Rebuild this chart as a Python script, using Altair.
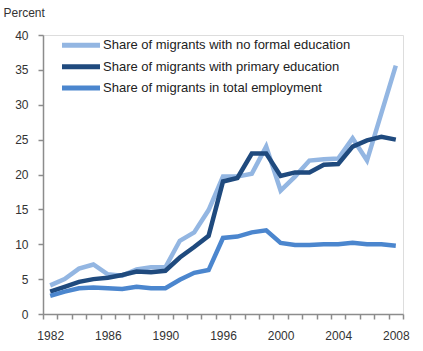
import altair as alt
import pandas as pd

years = [1982, 1983, 1984, 1985, 1986, 1987, 1988, 1989, 1990,
         1991, 1992, 1994,
         1996, 1997, 1998, 1999, 2000, 2001, 2002, 2003, 2004, 2005, 2006, 2007, 2008]
shown_labels = [1982, 1986, 1990, 1996, 2000, 2004, 2008]

series_names = [
    "Share of migrants with no formal education",
    "Share of migrants with primary education",
    "Share of migrants in total employment",
]
series_colors = ["#93B6E2", "#1F4A7E", "#4B86CE"]

no_formal = [4.1, 5.0, 6.5, 7.1, 5.7, 5.5, 6.4, 6.7, 6.7,
             10.5, 11.7, 14.9,
             19.7, 19.7, 20.1, 24.0, 17.7, 19.7, 22.0, 22.2, 22.3, 25.2, 22.0, 28.8, 35.6]
primary = [3.2, 3.9, 4.6, 5.0, 5.2, 5.6, 6.1, 6.0, 6.2,
           8.1, 9.6, 11.2,
           19.0, 19.5, 23.0, 23.0, 19.8, 20.3, 20.3, 21.4, 21.5, 24.0, 24.9, 25.4, 25.0]
employment = [2.6, 3.2, 3.7, 3.8, 3.7, 3.6, 3.9, 3.7, 3.7,
              4.9, 5.9, 6.3,
              10.9, 11.1, 11.7, 12.0, 10.2, 9.9, 9.9, 10.0, 10.0, 10.2, 10.0, 10.0, 9.8]

rows = []
for name, vals in zip(series_names, [no_formal, primary, employment]):
    for i, (yr, v) in enumerate(zip(years, vals)):
        rows.append({"idx": i, "year": yr, "value": v, "series": name})
df = pd.DataFrame(rows)
legend_df = pd.DataFrame({"series": series_names})

n = len(years)
W, H = 360, 279
step = W / n
boundaries = [i - 0.5 for i in range(n + 1)]
label_map = {years.index(y) - 0.5: str(y) for y in shown_labels}
expr = "''"
for b, t in sorted(label_map.items(), reverse=True):
    expr = f"datum.value == {b} ? '{t}' : ({expr})"

font = "Liberation Sans"
axis_color = "#8C8C8C"
text_color = "#333333"
color_scale = alt.Scale(domain=series_names, range=series_colors)

lines = alt.Chart(df).mark_line(strokeWidth=4.5, strokeJoin="miter").encode(
    x=alt.X("idx:Q",
            scale=alt.Scale(domain=[-0.5, n - 0.5], nice=False, zero=False),
            axis=alt.Axis(values=boundaries, labelExpr=expr, title=None, grid=False,
                          tickSize=5, tickColor=axis_color, domainColor=axis_color,
                          domainWidth=1.5, tickWidth=1.5, labelOffset=step / 2,
                          labelPadding=11, labelFont=font, labelFontSize=12,
                          labelColor=text_color, labelFlush=False, labelOverlap=False,
                          labelBound=False)),
    y=alt.Y("value:Q",
            scale=alt.Scale(domain=[0, 40], nice=False),
            axis=alt.Axis(values=list(range(0, 41, 5)), title="Percent", titleAngle=0,
                          titleAlign="left", titleBaseline="alphabetic", titleX=-40,
                          titleY=-18.5, titleFont=font, titleFontSize=12,
                          titleFontWeight="normal", titleColor=text_color,
                          grid=False, tickSize=5, tickColor=axis_color,
                          domainColor=axis_color, domainWidth=1.5, tickWidth=1.5,
                          labelPadding=10, labelFont=font, labelFontSize=12,
                          labelColor=text_color)),
    color=alt.Color("series:N", scale=color_scale, legend=None),
    detail="series:N",
)

legend_y = alt.Y("series:N", sort=series_names,
                 scale=alt.Scale(type="point", domain=series_names, range=[10.3, 53], padding=0),
                 axis=None)

legend_rules = alt.Chart(legend_df).mark_rule(strokeWidth=5).encode(
    x=alt.value(19), x2=alt.value(57), y=legend_y,
    color=alt.Color("series:N", scale=color_scale, legend=None),
)
legend_text = alt.Chart(legend_df).mark_text(
    align="left", baseline="middle", font=font, fontSize=13, color="#222222", dx=0
).encode(
    x=alt.value(60), y=legend_y, text="series:N",
)

chart = alt.layer(lines, legend_rules, legend_text).resolve_scale(
    y="independent"
).properties(
    width=W, height=H,
    autosize=alt.AutoSizeParams(type="none"),
    padding={"left": 43, "top": 35, "right": 20, "bottom": 37},
).configure_view(stroke=None).configure(background="white")

chart.save("out.html", embed_options={"renderer": "svg", "actions": False})
